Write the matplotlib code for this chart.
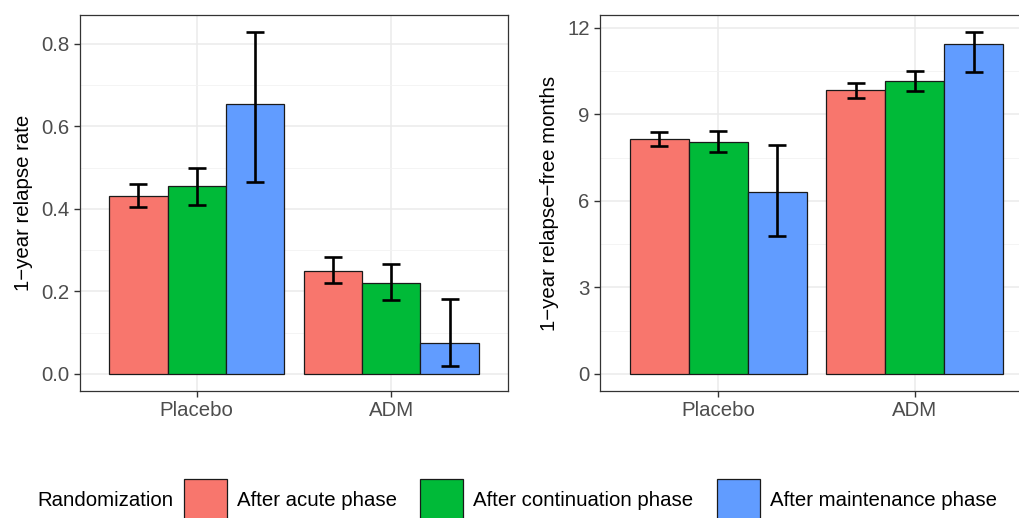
import matplotlib
matplotlib.use("Agg")
import matplotlib.pyplot as plt
from matplotlib.patches import Rectangle
import numpy as np

plt.rcParams['font.family'] = ['Liberation Sans', 'DejaVu Sans']

groups = ["Placebo", "ADM"]
series = ["After acute phase", "After continuation phase", "After maintenance phase"]
colors = ["#F8766D", "#00BA38", "#619CFF"]

rate = [[0.432, 0.250], [0.456, 0.220], [0.655, 0.075]]
rate_lo = [[0.404, 0.219], [0.409, 0.179], [0.465, 0.020]]
rate_hi = [[0.460, 0.282], [0.499, 0.265], [0.828, 0.181]]

months = [[8.14, 9.84], [8.05, 10.16], [6.32, 11.42]]
months_lo = [[7.91, 9.56], [7.69, 9.81], [4.78, 10.45]]
months_hi = [[8.40, 10.10], [8.42, 10.50], [7.93, 11.84]]

W, H = 1019, 518
fig = plt.figure(figsize=(W / 100, H / 100), dpi=100)

txt_col = "#4D4D4D"
fs = 14.7


def panel(ax, vals, lo, hi, yticks, yticklabels, minor, ylim, ylabel):
    x = np.arange(1, len(groups) + 1)
    bw = 0.3
    for i, (v, l, h) in enumerate(zip(vals, lo, hi)):
        xs = x + (i - 1) * bw
        ax.bar(xs, v, width=bw, color=colors[i], edgecolor="#1a1a1a", linewidth=0.9, zorder=3)
        v = np.array(v)
        ax.errorbar(xs, v, yerr=[v - np.array(l), np.array(h) - v], fmt="none",
                    ecolor="black", elinewidth=1.9, capsize=6.5, capthick=1.9, zorder=4)
    ax.set_xlim(0.4, 2.6)
    ax.set_ylim(*ylim)
    ax.set_xticks(x)
    ax.set_xticklabels(groups)
    ax.set_yticks(yticks)
    ax.set_yticklabels(yticklabels)
    ax.set_yticks(minor, minor=True)
    ax.grid(True, which="major", color="#EBEBEB", linewidth=1.1, zorder=0)
    ax.grid(True, which="minor", axis="y", color="#F2F2F2", linewidth=0.6, zorder=0)
    ax.tick_params(axis="y", which="minor", length=0)
    ax.tick_params(which="major", length=4.5, width=1.0, color="#333333",
                   labelsize=fs, labelcolor=txt_col, pad=3)
    for s in ax.spines.values():
        s.set_color("#333333")
        s.set_linewidth(0.9)
    ax.set_axisbelow(True)
    ax.set_ylabel(ylabel, fontsize=fs, color="black", labelpad=6)


ax1 = fig.add_axes([80 / W, 1 - 391 / H, 428 / W, 376 / H])
panel(ax1, rate, rate_lo, rate_hi,
      [0.0, 0.2, 0.4, 0.6, 0.8], ["0.0", "0.2", "0.4", "0.6", "0.8"],
      [0.1, 0.3, 0.5, 0.7], (-0.0415, 0.8695), "1\u2212year relapse rate")

ax2 = fig.add_axes([600 / W, 1 - 391 / H, 433 / W, 376 / H])
panel(ax2, months, months_lo, months_hi,
      [0, 3, 6, 9, 12], ["0", "3", "6", "9", "12"],
      [1.5, 4.5, 7.5, 10.5], (-0.592, 12.44), "1\u2212year relapse\u2212free months")

# legend
ly = 1 - 500 / H
fig.text(37 / W, ly, "Randomization", fontsize=fs, color="black", va="center", ha="left")
key_x = [184, 420, 717]
txt_x = [237, 473, 770]
for kx, tx, c, lab in zip(key_x, txt_x, colors, series):
    fig.add_artist(Rectangle((kx / W, 1 - 522 / H), 43 / W, 43 / H, transform=fig.transFigure,
                             facecolor=c, edgecolor="#1a1a1a", linewidth=0.9))
    fig.text(tx / W, ly, lab, fontsize=fs, color="black", va="center", ha="left")

fig.savefig("out.png", dpi=100)
